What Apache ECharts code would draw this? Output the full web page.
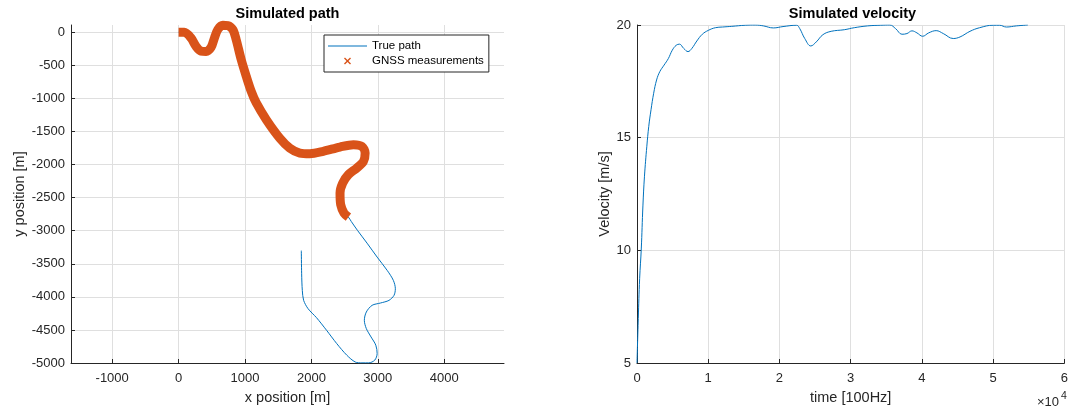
<!DOCTYPE html>
<html>
<head>
<meta charset="utf-8">
<title>Simulated path and velocity</title>
<script src="https://cdn.jsdelivr.net/npm/echarts@6/dist/echarts.min.js"></script>
<style>
  html, body { margin: 0; padding: 0; background: #ffffff; }
  #chart { width: 1071px; height: 410px; }
</style>
</head>
<body>
<div id="chart"></div>
<script>
// GNSS measurement track (x/y in metres)
const gnssX = [0, 86, 187, 262, 338, 414, 489, 540, 590, 666, 741, 817, 867, 943, 1019, 1094, 1170, 1321, 1523, 1674, 1826, 1977, 2178, 2431, 2633, 2759, 2809, 2784, 2683, 2557, 2471, 2431, 2441, 2491, 2557];
const gnssY = [0, 0, -86, -212, -285, -290, -230, -86, 40, 106, 101, 40, -111, -414, -666, -893, -1069, -1321, -1599, -1750, -1826, -1836, -1800, -1735, -1699, -1725, -1826, -1952, -2052, -2153, -2280, -2431, -2607, -2733, -2794];

// True vehicle path (x/y in metres)
const trueX = [0, 86, 187, 262, 338, 414, 489, 540, 590, 666, 741, 817, 867, 943, 1019, 1094, 1170, 1321, 1523, 1674, 1826, 1977, 2178, 2431, 2633, 2759, 2809, 2784, 2683, 2557, 2471, 2431, 2441, 2491, 2557,
  2600, 2695, 2838, 2990, 3142, 3234, 3264, 3244, 3168, 3041, 2914, 2827, 2797, 2827, 2898, 2970, 2990, 2954, 2863, 2761, 2660, 2533, 2381, 2228, 2076, 1949, 1883, 1863, 1853, 1848];
const trueY = [0, 0, -86, -212, -285, -290, -230, -86, 40, 106, 101, 40, -111, -414, -666, -893, -1069, -1321, -1599, -1750, -1826, -1836, -1800, -1735, -1699, -1725, -1826, -1952, -2052, -2153, -2280, -2431, -2607, -2733, -2794,
  -2860, -2997, -3188, -3399, -3601, -3751, -3877, -3977, -4053, -4093, -4128, -4229, -4354, -4480, -4606, -4731, -4857, -4957, -4998, -4998, -4985, -4882, -4706, -4505, -4314, -4178, -4053, -3902, -3651, -3301];

// Speed over time (samples at 100 Hz, m/s)
const timeSamples = [0, 180, 370, 600, 830, 1050, 1380, 1650, 1970, 2340, 2750, 3200, 3800, 4400, 4950, 5500, 5960, 6560, 7160, 7700, 8400, 9170, 10000, 11000, 12000, 13300, 15200, 16600, 17750, 19140, 20500, 22400, 22850, 23550, 24400, 25170, 26100, 27260, 29100, 30500, 32370, 34200, 35500, 36300, 37200, 37900, 38600, 39300, 40100, 40950, 42000, 43000, 44400, 45350, 46750, 48100, 50000, 50900, 51860, 53250, 54870];
const velocity = [5, 6.97, 8.74, 10.06, 11.97, 13.29, 14.62, 15.5, 16.24, 16.97, 17.56, 17.93, 18.22, 18.51, 18.88, 19.1, 19.15, 18.96, 18.82, 18.96, 19.29, 19.59, 19.76, 19.88, 19.91, 19.94, 19.99, 20.0, 19.96, 19.87, 19.93, 19.99, 19.84, 19.4, 19.07, 19.25, 19.57, 19.72, 19.79, 19.88, 19.96, 19.99, 20.0, 19.84, 19.59, 19.62, 19.74, 19.65, 19.5, 19.65, 19.75, 19.62, 19.4, 19.47, 19.72, 19.88, 19.99, 19.99, 19.91, 19.96, 20.0];

const seriesNames = ['True path', 'GNSS measurements'];
const titles = ['Simulated path', 'Simulated velocity'];
const timeScaleLabel = ['\u00d710', '4'];

const FONT = '"Liberation Sans", Arial, Helvetica, sans-serif';
const AXIS_COLOR = '#262626';
const GRID_COLOR = '#dfdfdf';
const BLUE = '#0072BD';
const ORANGE = '#D95319';

const pairs = (xs, ys) => xs.map((x, i) => [x, ys[i]]);
const plainNumber = v => String(v);

function valueAxis(extra) {
  return Object.assign({
    type: 'value',
    axisLine: { show: true, onZero: false, lineStyle: { color: AXIS_COLOR, width: 1 } },
    axisTick: { show: true, inside: true, length: 4, lineStyle: { color: AXIS_COLOR } },
    splitLine: { show: true, lineStyle: { color: GRID_COLOR, width: 1 } },
    nameLocation: 'middle',
    nameTextStyle: { color: AXIS_COLOR, fontSize: 14.5, fontFamily: FONT }
  }, extra);
}

const chart = echarts.init(document.getElementById('chart'), null, { renderer: 'canvas' });

chart.setOption({
  animation: false,
  backgroundColor: '#ffffff',
  textStyle: { fontFamily: FONT },
  grid: [
    { left: 71, top: 25, width: 433, height: 339, containLabel: false },
    { left: 637, top: 25, width: 431, height: 340, containLabel: false }
  ],
  xAxis: [
    valueAxis({
      gridIndex: 0, min: -1620, max: 4900, splitNumber: 6,
      name: 'x position [m]', nameGap: 27,
      axisLabel: { color: AXIS_COLOR, fontSize: 13, fontFamily: FONT, margin: 9, showMinLabel: false, showMaxLabel: false, formatter: plainNumber },
      splitLine: { show: true, showMinLine: false, showMaxLine: false, lineStyle: { color: GRID_COLOR, width: 1 } }
    }),
    valueAxis({
      gridIndex: 1, min: 0, max: 60000, interval: 10000,
      name: 'time [100Hz]', nameGap: 27,
      axisLabel: { color: AXIS_COLOR, fontSize: 13, fontFamily: FONT, margin: 9, formatter: v => String(v / 10000) }
    })
  ],
  yAxis: [
    valueAxis({
      gridIndex: 0, min: -5000, max: 110, interval: 500,
      name: 'y position [m]', nameGap: 39,
      axisLabel: { color: AXIS_COLOR, fontSize: 13, fontFamily: FONT, margin: 6, showMaxLabel: false, formatter: plainNumber },
      splitLine: { show: true, showMaxLine: false, lineStyle: { color: GRID_COLOR, width: 1 } }
    }),
    valueAxis({
      gridIndex: 1, min: 5, max: 20, interval: 5,
      name: 'Velocity [m/s]', nameGap: 25,
      axisLabel: { color: AXIS_COLOR, fontSize: 13, fontFamily: FONT, margin: 6, formatter: plainNumber }
    })
  ],
  legend: {
    orient: 'vertical',
    left: 324, top: 35,
    padding: [5, 5, 5, 4],
    itemWidth: 39, itemHeight: 7, itemGap: 3,
    backgroundColor: '#ffffff',
    borderColor: AXIS_COLOR, borderWidth: 1, borderRadius: 0,
    itemStyle: { borderWidth: 0 },
    textStyle: { color: '#000000', fontSize: 11.5, fontFamily: FONT },
    data: [
      { name: seriesNames[0], icon: 'path://M0,0H40V1H0Z' },
      { name: seriesNames[1], icon: 'path://M0,1.4L1.4,0L5,3.6L8.6,0L10,1.4L6.4,5L10,8.6L8.6,10L5,6.4L1.4,10L0,8.6L3.6,5Z' }
    ]
  },
  series: [
    {
      name: seriesNames[0], type: 'line', xAxisIndex: 0, yAxisIndex: 0,
      data: pairs(trueX, trueY),
      symbol: 'none', smooth: 0.3, z: 2,
      itemStyle: { color: BLUE },
      lineStyle: { color: BLUE, width: 1 }
    },
    {
      name: seriesNames[1], type: 'line', xAxisIndex: 0, yAxisIndex: 0,
      data: pairs(gnssX, gnssY),
      symbol: 'none', smooth: 0.3, z: 3, clip: false,
      itemStyle: { color: ORANGE },
      lineStyle: { color: ORANGE, width: 9, cap: 'butt', join: 'round' }
    },
    {
      name: 'Velocity', type: 'line', xAxisIndex: 1, yAxisIndex: 1,
      data: pairs(timeSamples, velocity),
      symbol: 'none', smooth: 0.4, z: 2,
      itemStyle: { color: BLUE },
      lineStyle: { color: BLUE, width: 1 }
    }
  ],
  graphic: [
    { type: 'text', x: 287.5, y: 13.5, silent: true,
      style: { text: titles[0], align: 'center', verticalAlign: 'middle', fill: '#000000', font: 'bold 14.5px ' + FONT } },
    { type: 'text', x: 852.5, y: 13.5, silent: true,
      style: { text: titles[1], align: 'center', verticalAlign: 'middle', fill: '#000000', font: 'bold 14.5px ' + FONT } },
    { type: 'text', x: 1037, y: 402, silent: true,
      style: { text: timeScaleLabel[0], align: 'left', verticalAlign: 'middle', fill: AXIS_COLOR, font: '13px ' + FONT } },
    { type: 'text', x: 1061, y: 396, silent: true,
      style: { text: timeScaleLabel[1], align: 'left', verticalAlign: 'middle', fill: AXIS_COLOR, font: '10.5px ' + FONT } }
  ]
});
</script>
</body>
</html>
